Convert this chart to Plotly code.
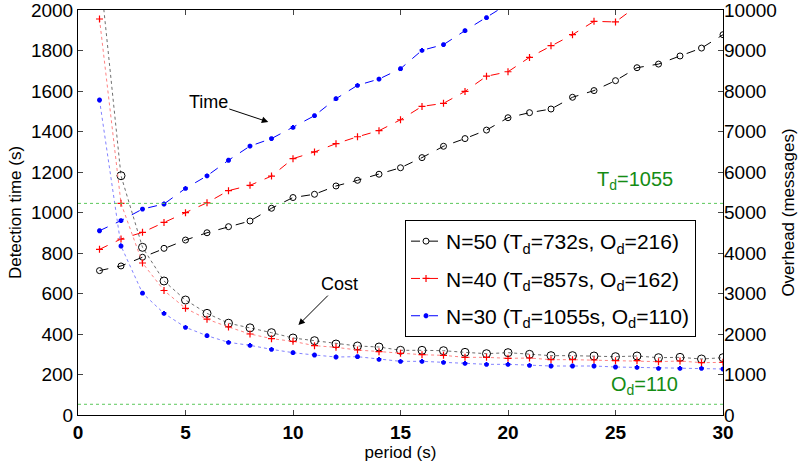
import plotly.graph_objects as go

# ---- data ----
period = list(range(1, 31))

time_n50 = [713, 736, 779, 823, 864, 900, 930, 958, 1021, 1074, 1090, 1131, 1159, 1189, 1221,
            1271, 1327, 1365, 1407, 1468, 1493, 1511, 1569, 1602, 1651, 1715, 1733, 1773, 1812, 1878]
time_n40 = [818, 869, 902, 951, 999, 1048, 1108, 1134, 1180, 1266, 1299, 1340, 1374, 1404, 1458,
            1524, 1539, 1598, 1673, 1695, 1766, 1824, 1878, 1944, 1941, 2020]
time_n30 = [910, 960, 1017, 1042, 1119, 1181, 1258, 1328, 1365, 1420, 1478, 1562, 1628, 1659, 1710,
            1801, 1829, 1898, 1962, 2030]

cost_n50 = [11050, 5908, 4140, 3309, 2839, 2510, 2267, 2152, 2033, 1901, 1835, 1753, 1704, 1679, 1597,
            1597, 1588, 1547, 1514, 1539, 1498, 1465, 1465, 1457, 1440, 1457, 1415, 1424, 1383, 1415]
cost_n40 = [9778, 5227, 3753, 3074, 2634, 2366, 2173, 2000, 1885, 1819, 1712, 1671, 1605, 1563, 1523,
            1489, 1473, 1424, 1424, 1399, 1407, 1366, 1366, 1358, 1341, 1341, 1317, 1333, 1292, 1300]
cost_n30 = [7778, 4173, 3008, 2510, 2165, 1958, 1794, 1720, 1621, 1539, 1481, 1432, 1440, 1375, 1325,
            1325, 1300, 1276, 1251, 1251, 1226, 1210, 1210, 1210, 1185, 1177, 1152, 1152, 1152, 1136]

legend_labels = ["N=50 (T<sub>d</sub>=732s, O<sub>d</sub>=216)",
                 "N=40 (T<sub>d</sub>=857s, O<sub>d</sub>=162)",
                 "N=30 (T<sub>d</sub>=1055s, O<sub>d</sub>=110)"]

td_line = 1045     # detection-time reference (left axis)
od_line = 265      # overhead reference (right axis)

left_ticks = list(range(0, 2001, 200))
right_ticks = list(range(0, 10001, 1000))
x_ticks = [0, 5, 10, 15, 20, 25, 30]

FONT = "Liberation Sans, Arial, Helvetica, sans-serif"

fig = go.Figure()

styles = [
    (time_n50, cost_n50, "black", "rgb(110,110,110)", "circle-open", 6, 1, 8),
    (time_n40, cost_n40, "red", "rgb(255,130,130)", "cross-thin-open", 5, 1.2, 5),
    (time_n30, cost_n30, "blue", "rgb(130,130,255)", "asterisk-open", 4, 2, 4),
]
for i, (tv, cv, col, lcol, sym, msz, mlw, csz) in enumerate(styles):
    fig.add_trace(go.Scatter(
        x=period[:len(tv)], y=tv, mode="lines+markers", name=legend_labels[i],
        legendgroup=f"g{i}",
        line=dict(color=col, width=1, dash="dash"),
        marker=dict(symbol=sym, size=msz, color=col, line=dict(color=col, width=mlw)),
        yaxis="y"))
for i, (tv, cv, col, lcol, sym, msz, mlw, csz) in enumerate(styles):
    fig.add_trace(go.Scatter(
        x=period[:len(cv)], y=cv, mode="lines+markers", showlegend=False,
        line=dict(color=lcol, width=1, dash="dot"),
        marker=dict(symbol=sym, size=csz, color=col, line=dict(color=col, width=mlw)),
        yaxis="y2"))

fig.update_layout(
    width=804, height=466,
    margin=dict(l=78, r=81, t=10, b=51, autoexpand=False),
    plot_bgcolor="white", paper_bgcolor="white",
    font=dict(family=FONT, size=19, color="black"),
    showlegend=True,
    legend=dict(x=0.507, y=0.4815, xanchor="left", yanchor="top",
                bgcolor="white", bordercolor="black", borderwidth=1,
                font=dict(size=21, family=FONT), itemwidth=30,
                tracegroupgap=7),
    xaxis=dict(range=[0, 30], tickvals=x_ticks, ticks="inside", ticklen=5,
               showline=True, linecolor="black", linewidth=1, mirror="ticks",
               showgrid=False, zeroline=False, automargin=False,
               ticklabeloverflow="allow",
               tickfont=dict(size=19, family=FONT, weight="bold"),
               title=dict(text="period (s)", font=dict(size=17), standoff=0)),
    yaxis=dict(range=[0, 2000], tickvals=left_ticks, ticks="inside", ticklen=5,
               showline=True, linecolor="black", linewidth=1, mirror=True,
               showgrid=False, zeroline=False, automargin=False,
               ticklabeloverflow="allow",
               tickfont=dict(size=19),
               title=dict(text="Detection time (s)", font=dict(size=17), standoff=4)),
    yaxis2=dict(range=[0, 10000], tickvals=right_ticks, tickformat="d",
                ticks="inside", ticklen=5,
                overlaying="y", side="right", showline=False,
                showgrid=False, zeroline=False, automargin=False,
                ticklabeloverflow="allow",
                tickfont=dict(size=19),
                title=dict(text="Overhead (messages)", font=dict(size=17), standoff=6)),
    shapes=[
        dict(type="line", xref="paper", x0=0, x1=1, yref="y", y0=td_line, y1=td_line,
             line=dict(color="rgb(90,200,90)", width=1, dash="dot")),
        dict(type="line", xref="paper", x0=0, x1=1, yref="y2", y0=od_line, y1=od_line,
             line=dict(color="rgb(90,200,90)", width=1, dash="dot")),
    ],
    annotations=[
        dict(text="Time", x=8.85, y=1447, xref="x", yref="y", ax=-60, ay=-20,
             showarrow=True, arrowhead=2, arrowsize=1.3, arrowwidth=1, arrowcolor="black",
             font=dict(size=18)),
        dict(text="Cost", x=10.25, y=444, xref="x", yref="y", ax=41, ay=-41,
             showarrow=True, arrowhead=2, arrowsize=1.3, arrowwidth=1, arrowcolor="black",
             font=dict(size=18)),
        dict(text="T<sub>d</sub>=1055", x=0.864, y=0.58, xref="paper", yref="paper",
             xanchor="center", yanchor="middle",
             showarrow=False, font=dict(size=20, color="rgb(20,140,20)")),
        dict(text="O<sub>d</sub>=110", x=0.879, y=0.074, xref="paper", yref="paper",
             xanchor="center", yanchor="middle",
             showarrow=False, font=dict(size=20, color="rgb(20,140,20)")),
    ],
)

fig.write_html("out.html", config={"displayModeBar": False},
               post_script="document.body.style.margin='0';")
